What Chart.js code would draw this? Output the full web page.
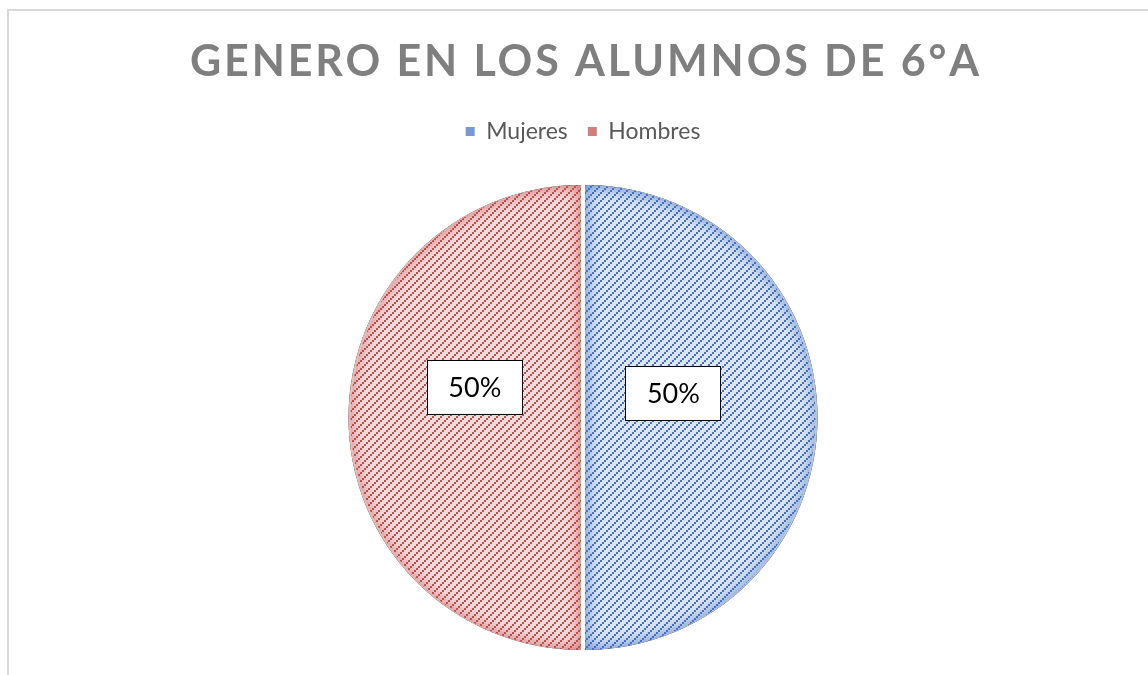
<!DOCTYPE html>
<html>
<head>
<meta charset="utf-8">
<script src="https://cdn.jsdelivr.net/npm/chart.js@4.4.0/dist/chart.umd.min.js"></script>
<style>
  html, body { margin: 0; padding: 0; background: #fff; }
  #wrap { width: 1148px; height: 675px; }
</style>
</head>
<body>
<div id="wrap"><canvas id="c" width="1148" height="675"></canvas></div>
<script>
// ---- data ----
const chartTitle = 'GENERO EN LOS ALUMNOS DE 6°A';
const categories = ['Mujeres', 'Hombres'];
const values = [50, 50];

// ---- styles ----
const darkColors = ['#4472c4', '#c0504d'];
const lightColors = ['#dce5f4', '#f5dcdc'];
const shadowColors = ['rgba(68,114,196,0.9)', 'rgba(192,80,77,0.85)'];
const labelAngleOffsetDeg = [-15.5, 16];
const labelRadiusFrac = [0.40, 0.48];

function makePattern(dark, light) {
  const n = 8;
  const t = document.createElement('canvas');
  t.width = n; t.height = n;
  const g = t.getContext('2d');
  g.fillStyle = light; g.fillRect(0, 0, n, n);
  g.fillStyle = dark;
  for (let bx = 0; bx < n / 2; bx++) {
    for (let by = 0; by < n / 2; by++) {
      if ((bx + by) % (n / 2) === 0) g.fillRect(bx * 2, by * 2, 2, 2);
    }
  }
  return g.createPattern(t, 'repeat');
}
const patterns = darkColors.map((d, i) => makePattern(d, lightColors[i]));

const frameAndTitle = {
  id: 'frameAndTitle',
  beforeDraw(chart) {
    const ctx = chart.ctx;
    ctx.save();
    ctx.fillStyle = '#fff';
    ctx.fillRect(0, 0, chart.width, chart.height);
    ctx.strokeStyle = '#d9d9d9';
    ctx.lineWidth = 2;
    ctx.beginPath();
    ctx.moveTo(8, chart.height + 5);
    ctx.lineTo(8, 10);
    ctx.lineTo(chart.width + 5, 10);
    ctx.stroke();
    ctx.restore();
  },
  afterDraw(chart) {
    const ctx = chart.ctx;
    ctx.save();
    ctx.font = 'bold 43px Lato, "Open Sans", sans-serif';
    ctx.fillStyle = '#7f7f7f';
    ctx.textAlign = 'center';
    ctx.textBaseline = 'middle';
    if ('letterSpacing' in ctx) ctx.letterSpacing = '2.9px';
    ctx.fillText(chartTitle, 586, 62);
    ctx.restore();
  }
};

const legendSpace = {
  id: 'legendSpace',
  beforeInit(chart) {
    const orig = chart.legend.fit;
    chart.legend.fit = function () {
      orig.bind(chart.legend)();
      this.height += 28;
    };
  }
};

const innerShadow = {
  id: 'innerShadow',
  afterDatasetsDraw(chart) {
    const ctx = chart.ctx;
    const meta = chart.getDatasetMeta(0);
    meta.data.forEach((arc, i) => {
      const p = arc.getProps(['x', 'y', 'startAngle', 'endAngle', 'outerRadius'], true);
      const mid = (p.startAngle + p.endAngle) / 2;
      const cx = p.x + Math.cos(mid) * 2;
      const cy = p.y + Math.sin(mid) * 2;
      const r = p.outerRadius - 2;
      ctx.save();
      ctx.beginPath();
      ctx.moveTo(cx, cy);
      ctx.arc(cx, cy, r, p.startAngle, p.endAngle);
      ctx.closePath();
      ctx.clip();
      ctx.beginPath();
      ctx.rect(-2000, -2000, 5000, 5000);
      ctx.moveTo(cx, cy);
      ctx.arc(cx, cy, r, p.startAngle, p.endAngle);
      ctx.closePath();
      ctx.shadowColor = shadowColors[i];
      ctx.shadowBlur = 16;
      ctx.fillStyle = '#000';
      ctx.fill('evenodd');
      ctx.restore();
    });
  }
};

const boxLabels = {
  id: 'boxLabels',
  afterDatasetsDraw(chart) {
    const ctx = chart.ctx;
    const meta = chart.getDatasetMeta(0);
    const total = values.reduce((a, b) => a + b, 0);
    meta.data.forEach((arc, i) => {
      const p = arc.getProps(['x', 'y', 'startAngle', 'endAngle', 'outerRadius'], true);
      const mid = (p.startAngle + p.endAngle) / 2 + labelAngleOffsetDeg[i] * Math.PI / 180;
      const d = p.outerRadius * labelRadiusFrac[i];
      const lx = p.x + Math.cos(mid) * d;
      const ly = p.y + Math.sin(mid) * d + 1;
      const w = 96, h = 55;
      ctx.save();
      ctx.fillStyle = '#fff';
      ctx.fillRect(Math.round(lx - w / 2), Math.round(ly - h / 2), w, h);
      ctx.strokeStyle = '#000';
      ctx.lineWidth = 1;
      ctx.strokeRect(Math.round(lx - w / 2) + 0.5, Math.round(ly - h / 2) + 0.5, w - 1, h - 1);
      ctx.fillStyle = '#000';
      ctx.font = '27px Lato, "Open Sans", sans-serif';
      ctx.textAlign = 'center';
      ctx.textBaseline = 'middle';
      ctx.fillText(Math.round(values[i] / total * 100) + '%', lx, ly + 1);
      ctx.restore();
    });
  }
};

new Chart(document.getElementById('c'), {
  type: 'pie',
  data: {
    labels: categories,
    datasets: [{
      data: values,
      backgroundColor: patterns,
      borderColor: '#ffffff',
      borderWidth: 4
    }]
  },
  options: {
    responsive: false,
    devicePixelRatio: 1,
    animation: false,
    layout: { padding: { top: 100, bottom: 21, left: 18, right: 0 } },
    plugins: {
      title: { display: false },
      tooltip: { enabled: false },
      legend: {
        position: 'top',
        labels: {
          color: '#595959',
          font: { family: 'Lato, "Open Sans", sans-serif', size: 23 },
          usePointStyle: true,
          boxWidth: 9,
          boxHeight: 9,
          padding: 20,
          generateLabels: () => categories.map((c, i) => ({
            text: c,
            fillStyle: darkColors[i] + 'bb',
            strokeStyle: darkColors[i],
            lineWidth: 0,
            pointStyle: 'rect',
            hidden: false,
            index: i,
            fontColor: '#595959'
          }))
        }
      }
    }
  },
  plugins: [frameAndTitle, legendSpace, innerShadow, boxLabels]
});
</script>
</body>
</html>
